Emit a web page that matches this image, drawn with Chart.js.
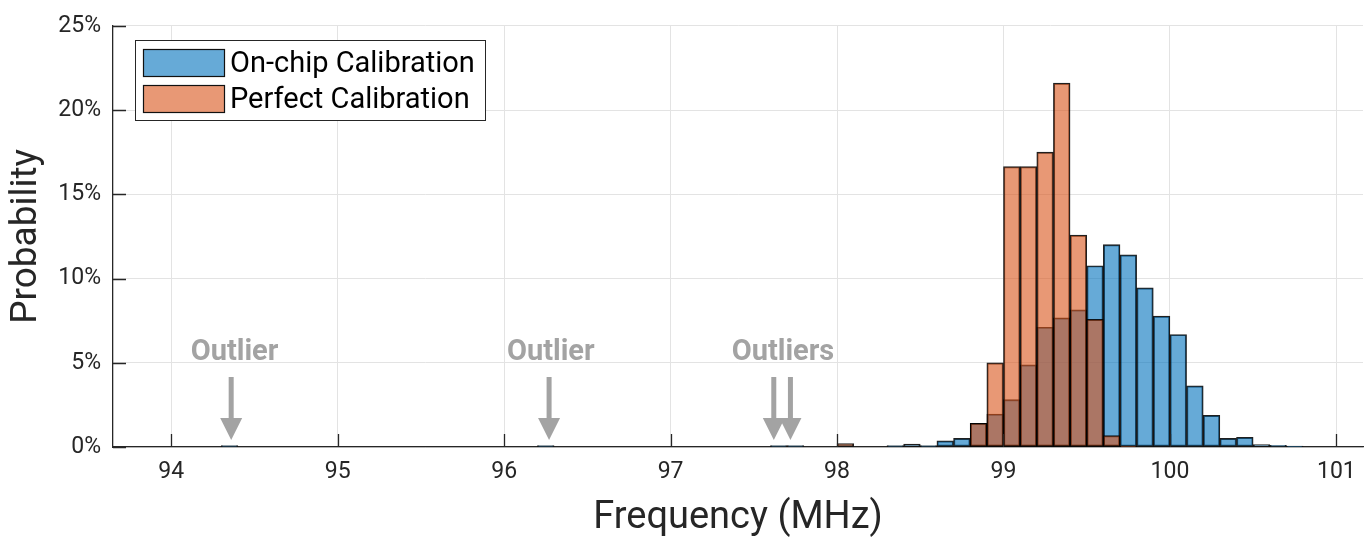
<!DOCTYPE html>
<html>
<head>
<meta charset="utf-8">
<title>Frequency distribution</title>
<script src="https://cdn.jsdelivr.net/npm/chart.js@4.4.1/dist/chart.umd.min.js"></script>
<style>
  html, body { margin: 0; padding: 0; background: #ffffff; }
  #wrap { width: 1370px; height: 537px; }
</style>
</head>
<body>
<div id="wrap"><canvas id="chart" width="1370" height="537"></canvas></div>
<script>
// Histogram bins (0.1 MHz wide), given by their centre frequency in MHz
const onChipFreq = [94.35, 96.25, 97.65, 97.75, 98.35, 98.45, 98.55, 98.65, 98.75, 98.85,
                    98.95, 99.05, 99.15, 99.25, 99.35, 99.45, 99.55, 99.65, 99.75, 99.85,
                    99.95, 100.05, 100.15, 100.25, 100.35, 100.45, 100.55, 100.65, 100.75];
const onChipPct  = [0.08, 0.08, 0.08, 0.08, 0.08, 0.18, 0.08, 0.37, 0.51, 1.41,
                    1.95, 2.81, 4.88, 7.11, 7.66, 8.14, 10.76, 12.01, 11.41, 9.45,
                    7.77, 6.68, 3.63, 1.88, 0.51, 0.57, 0.15, 0.10, 0.05];

const perfectFreq = [98.05, 98.85, 98.95, 99.05, 99.15, 99.25, 99.35, 99.45, 99.55, 99.65, 99.75];
const perfectPct  = [0.20, 1.41, 5.00, 16.64, 16.64, 17.50, 21.60, 12.58, 7.58, 0.68, 0.05];

const seriesNames = ['On-chip Calibration', 'Perfect Calibration'];
const xTicks = [94, 95, 96, 97, 98, 99, 100, 101];
const yTicks = [0, 5, 10, 15, 20, 25];

// Outlier callouts: label text, label centre and arrow positions (MHz)
const outlierLabels = ['Outlier', 'Outlier', 'Outliers'];
const outlierLabelFreq = [94.38, 96.28, 97.675];
const outlierArrowFreq = [[94.36], [96.27], [97.62, 97.72]];

const INK = '#262626';
const GRID = '#e3e3e3';
const CALLOUT = '#a3a3a3';
const BLUE = 'rgba(0,114,189,0.6)';
const ORANGE = 'rgba(217,83,25,0.6)';

function toPoints(xs, ys) { return xs.map((x, i) => ({ x: x, y: ys[i] })); }

// Inward tick marks, outlier callouts and the legend box
const decorations = {
  id: 'decorations',
  afterDatasetsDraw(chart) {
    const ctx = chart.ctx;
    const xs = chart.scales.x, ys = chart.scales.y;
    const area = chart.chartArea;
    ctx.save();

    // tick marks pointing into the plot
    ctx.strokeStyle = INK;
    ctx.lineWidth = 1.3;
    ctx.beginPath();
    xTicks.forEach(v => {
      const px = Math.round(xs.getPixelForValue(v)) + 0.5;
      ctx.moveTo(px, area.bottom);
      ctx.lineTo(px, area.bottom - 13);
    });
    yTicks.forEach(v => {
      const py = Math.round(ys.getPixelForValue(v)) + 0.5;
      ctx.moveTo(area.left, py);
      ctx.lineTo(area.left + 13, py);
    });
    ctx.stroke();

    // outlier callouts
    ctx.fillStyle = CALLOUT;
    ctx.font = 'bold 29px Roboto';
    ctx.textAlign = 'center';
    ctx.textBaseline = 'alphabetic';
    outlierLabels.forEach((txt, i) => {
      ctx.fillText(txt, xs.getPixelForValue(outlierLabelFreq[i]), area.bottom - 87);
      outlierArrowFreq[i].forEach(f => {
        const ax = xs.getPixelForValue(f);
        const tipY = area.bottom - 7;
        ctx.fillRect(ax - 2.5, area.bottom - 70, 5, 44);
        ctx.beginPath();
        ctx.moveTo(ax - 11, area.bottom - 29);
        ctx.lineTo(ax + 11, area.bottom - 29);
        ctx.lineTo(ax, tipY);
        ctx.closePath();
        ctx.fill();
      });
    });

    // legend
    const lx = 135.5, ly = 40.5, lw = 350, lh = 80;
    ctx.fillStyle = '#ffffff';
    ctx.fillRect(lx, ly, lw, lh);
    ctx.strokeStyle = INK;
    ctx.lineWidth = 1;
    ctx.strokeRect(lx, ly, lw, lh);
    const swatches = [['#66aad7', seriesNames[0], 49], ['#e89875', seriesNames[1], 85]];
    ctx.font = '29px Roboto';
    ctx.textAlign = 'left';
    ctx.textBaseline = 'middle';
    swatches.forEach(([col, name, top]) => {
      ctx.fillStyle = col;
      ctx.fillRect(143.5, top + 0.5, 81, 27);
      ctx.strokeStyle = '#111111';
      ctx.lineWidth = 1.2;
      ctx.strokeRect(143.5, top + 0.5, 81, 27);
      ctx.fillStyle = '#000000';
      ctx.fillText(name, 230, top + 16);
    });
    ctx.restore();
  }
};

Chart.defaults.font.family = 'Roboto';
Chart.defaults.color = INK;

new Chart(document.getElementById('chart'), {
  type: 'bar',
  data: {
    datasets: [
      {
        label: seriesNames[0],
        data: toPoints(onChipFreq, onChipPct),
        backgroundColor: BLUE,
        borderColor: 'rgba(0,0,0,0.88)',
        borderWidth: 1.3,
        borderSkipped: false,
        order: 2
      },
      {
        label: seriesNames[1],
        data: toPoints(perfectFreq, perfectPct),
        backgroundColor: ORANGE,
        borderColor: 'rgba(0,0,0,0.88)',
        borderWidth: 1.3,
        borderSkipped: false,
        order: 1
      }
    ]
  },
  options: {
    responsive: false,
    animation: false,
    devicePixelRatio: 1,
    grouped: false,
    barPercentage: 1,
    categoryPercentage: 1,
    layout: { padding: { left: 0, right: 7, top: 22, bottom: 0 } },
    plugins: { legend: { display: false }, tooltip: { enabled: false } },
    scales: {
      x: {
        type: 'linear',
        min: 93.65,
        max: 101.16,
        offset: false,
        afterBuildTicks: s => { s.ticks = xTicks.map(v => ({ value: v })); },
        afterFit: s => { s.height = 90; },
        grid: { color: GRID, lineWidth: 1, drawTicks: false, offset: false },
        border: { color: INK, width: 1.3 },
        ticks: { font: { size: 23 }, color: INK, padding: 11, maxRotation: 0,
                 callback: v => String(v) },
        title: { display: true, text: 'Frequency (MHz)', font: { size: 38 }, color: INK,
                 padding: { top: 0, bottom: -4 } }
      },
      y: {
        min: 0,
        max: 25,
        afterBuildTicks: s => { s.ticks = yTicks.map(v => ({ value: v })); },
        afterFit: s => { s.width = 113; },
        grid: { color: GRID, lineWidth: 1, drawTicks: false },
        border: { color: INK, width: 1.3 },
        ticks: { font: { size: 23 }, color: INK, padding: 12, callback: v => v + '%' },
        title: { display: true, text: 'Probability', font: { size: 37 }, color: INK,
                 padding: { top: 5, bottom: 0 } }
      }
    }
  },
  plugins: [decorations]
});
</script>
</body>
</html>
